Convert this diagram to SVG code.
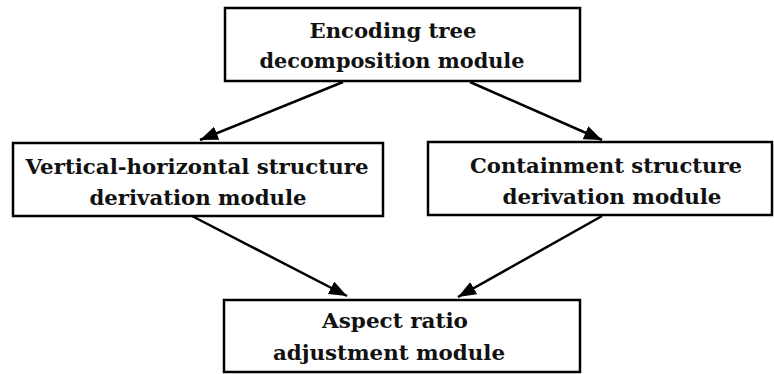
<svg xmlns="http://www.w3.org/2000/svg" width="774" height="374" viewBox="0 0 774 374">
<style>
.box{fill:#fff;stroke:#000;stroke-width:2.5}
.t{font-family:'DejaVu Serif',serif;font-weight:700;font-size:21px;fill:#111}
.c{stroke:#000;stroke-width:2.5;fill:none}
</style>
<defs>
<marker id="ah" markerUnits="userSpaceOnUse" markerWidth="20" markerHeight="14" refX="18" refY="7" orient="auto">
<path d="M0,0 L18,7 L0,14 Z" fill="#000"/>
</marker>
</defs>
<rect width="774" height="374" fill="#fff"/>
<g id="connectors">
<line class="c" x1="343" y1="82" x2="200" y2="140" marker-end="url(#ah)"/>
<line class="c" x1="470" y1="82" x2="602" y2="140" marker-end="url(#ah)"/>
<line class="c" x1="192" y1="216" x2="347" y2="296" marker-end="url(#ah)"/>
<line class="c" x1="602" y1="216" x2="458" y2="297" marker-end="url(#ah)"/>
</g>
<g id="n1">
<rect class="box" x="225" y="8" width="355" height="73"/>
<text class="t" x="393" y="38" text-anchor="middle" textLength="167" lengthAdjust="spacingAndGlyphs">Encoding tree</text>
<text class="t" x="392" y="68" text-anchor="middle" textLength="265" lengthAdjust="spacingAndGlyphs">decomposition module</text>
</g>
<g id="n2">
<rect class="box" x="13" y="143" width="370" height="73"/>
<text class="t" x="197" y="174" text-anchor="middle" textLength="343" lengthAdjust="spacingAndGlyphs">Vertical-horizontal structure</text>
<text class="t" x="198" y="205" text-anchor="middle" textLength="217" lengthAdjust="spacingAndGlyphs">derivation module</text>
</g>
<g id="n3">
<rect class="box" x="428" y="142" width="344" height="73"/>
<text class="t" x="606" y="173" text-anchor="middle" textLength="272" lengthAdjust="spacingAndGlyphs">Containment structure</text>
<text class="t" x="612" y="204" text-anchor="middle" textLength="219" lengthAdjust="spacingAndGlyphs">derivation module</text>
</g>
<g id="n4">
<rect class="box" x="224" y="300" width="356" height="72"/>
<text class="t" x="395" y="328" text-anchor="middle" textLength="146" lengthAdjust="spacingAndGlyphs">Aspect ratio</text>
<text class="t" x="389" y="360" text-anchor="middle" textLength="232" lengthAdjust="spacingAndGlyphs">adjustment module</text>
</g>
</svg>
